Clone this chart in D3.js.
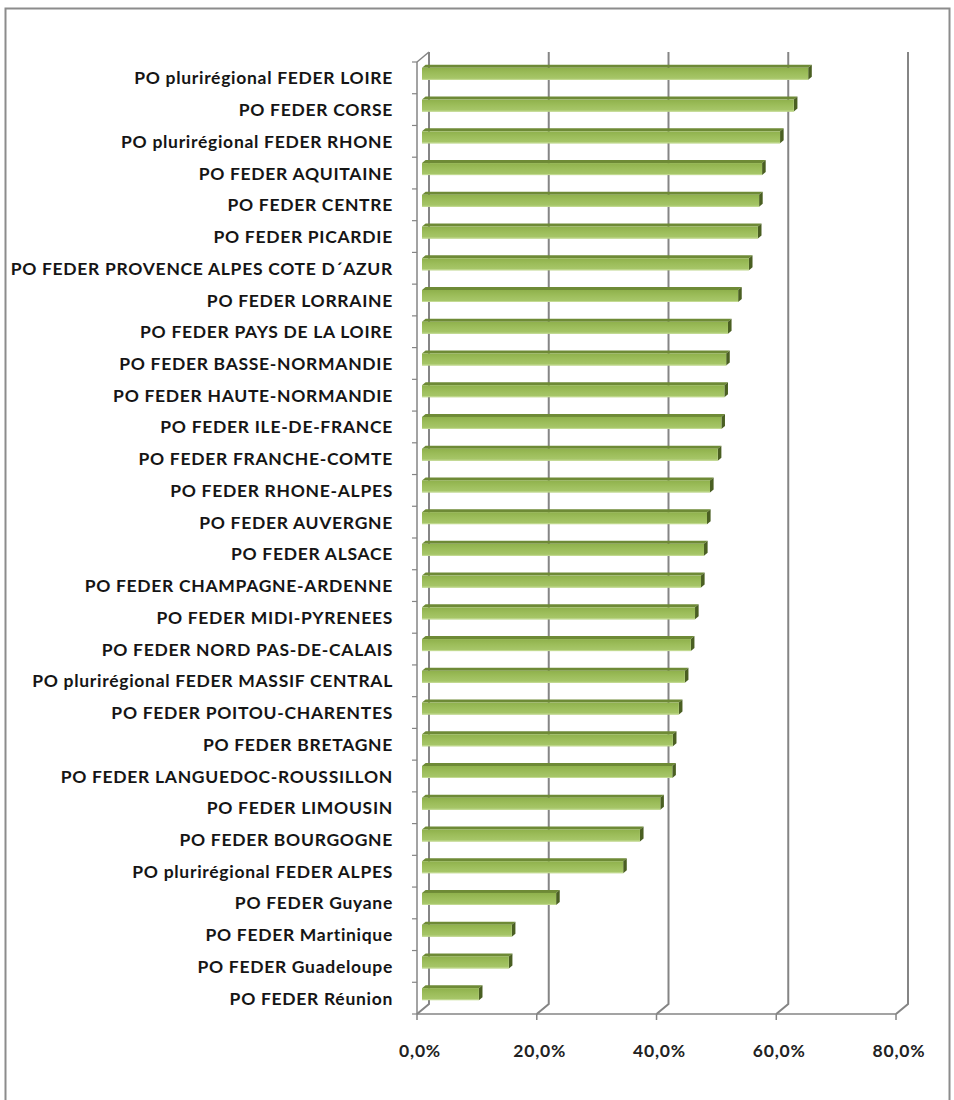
<!DOCTYPE html>
<html>
<head>
<meta charset="utf-8">
<script src="https://cdn.jsdelivr.net/npm/d3@7"></script>
<style>
  html, body { margin: 0; padding: 0; background: #ffffff; }
  svg { display: block; }
</style>
</head>
<body>
<script>
const categories = [
  "PO plurirégional FEDER LOIRE",
  "PO FEDER CORSE",
  "PO plurirégional FEDER RHONE",
  "PO FEDER AQUITAINE",
  "PO FEDER CENTRE",
  "PO FEDER PICARDIE",
  "PO FEDER PROVENCE ALPES COTE D´AZUR",
  "PO FEDER LORRAINE",
  "PO FEDER PAYS DE LA LOIRE",
  "PO FEDER BASSE-NORMANDIE",
  "PO FEDER HAUTE-NORMANDIE",
  "PO FEDER ILE-DE-FRANCE",
  "PO FEDER FRANCHE-COMTE",
  "PO FEDER RHONE-ALPES",
  "PO FEDER AUVERGNE",
  "PO FEDER ALSACE",
  "PO FEDER CHAMPAGNE-ARDENNE",
  "PO FEDER MIDI-PYRENEES",
  "PO FEDER NORD PAS-DE-CALAIS",
  "PO plurirégional FEDER MASSIF CENTRAL",
  "PO FEDER POITOU-CHARENTES",
  "PO FEDER BRETAGNE",
  "PO FEDER LANGUEDOC-ROUSSILLON",
  "PO FEDER LIMOUSIN",
  "PO FEDER BOURGOGNE",
  "PO plurirégional FEDER ALPES",
  "PO FEDER Guyane",
  "PO FEDER Martinique",
  "PO FEDER Guadeloupe",
  "PO FEDER Réunion"
];
const values = [
  64.5, 62.1, 59.8, 56.8, 56.3, 56.1, 54.6, 52.8, 51.1, 50.8,
  50.5, 50.0, 49.4, 48.1, 47.6, 47.1, 46.6, 45.6, 44.9, 43.9,
  42.9, 41.9, 41.8, 39.8, 36.4, 33.6, 22.4, 15.0, 14.5, 9.5
];
const xTicks = [0, 20, 40, 60, 80];
const xTickLabels = ["0,0%", "20,0%", "40,0%", "60,0%", "80,0%"];

const W = 954, H = 1100;
const svg = d3.select("body").append("svg").attr("width", W).attr("height", H);

// frame
svg.append("rect").attr("x", 5.5).attr("y", 8.5).attr("width", 944).attr("height", 1100)
  .attr("fill", "#fff").attr("stroke", "#8c8c8c").attr("stroke-width", 2);

// front plane scales
const x = d3.scaleLinear().domain([0, 80]).range([417, 896]);
const y = d3.scaleBand().domain(categories).range([62, 1014]);
const DX = 12, DY = -10; // depth offset (front -> back)
const yTop = 62, yBot = 1014;

const grid = svg.append("g");
xTicks.forEach(t => {
  const fx = x(t);
  grid.append("path")
    .attr("d", `M${fx + DX},${yTop + DY} L${fx + DX},${yBot + DY} L${fx},${yBot}`)
    .attr("fill", "none").attr("stroke", "#858585").attr("stroke-width", 2);
});
grid.append("line").attr("x1", x(0)).attr("y1", yTop).attr("x2", x(0) + DX).attr("y2", yTop + DY)
  .attr("stroke", "#858585").attr("stroke-width", 1.5);
grid.append("line").attr("x1", x(0)).attr("x2", x(80)).attr("y1", yBot).attr("y2", yBot)
  .attr("stroke", "#858585").attr("stroke-width", 1.5);
xTicks.forEach(t => {
  grid.append("line").attr("x1", x(t)).attr("x2", x(t)).attr("y1", yBot).attr("y2", yBot + 6)
    .attr("stroke", "#858585").attr("stroke-width", 1.5);
});
grid.append("line").attr("x1", x(0)).attr("x2", x(0)).attr("y1", yTop).attr("y2", yBot)
  .attr("stroke", "#858585").attr("stroke-width", 1.5);
const bounds = categories.map(c => y(c)).concat([yBot]);
bounds.forEach(b => {
  grid.append("line").attr("x1", x(0) - 5).attr("x2", x(0)).attr("y1", b).attr("y2", b)
    .attr("stroke", "#858585").attr("stroke-width", 1.2);
});

// bars (3D boxes)
const defs = svg.append("defs");
const grad = defs.append("linearGradient").attr("id", "barGrad").attr("x1", 0).attr("y1", 0).attr("x2", 0).attr("y2", 1);
grad.append("stop").attr("offset", "0%").attr("stop-color", "#8fb14c");
grad.append("stop").attr("offset", "45%").attr("stop-color", "#9cbd5a");
grad.append("stop").attr("offset", "100%").attr("stop-color", "#a9c86c");

const fOff = { dx: 5, dy: -3.5 };
const bD = { dx: 3.6, dy: -3.0 };
const faceH = 12;
const bars = svg.append("g");
categories.forEach((c, i) => {
  const v = values[i];
  const cy = y(c) + y.bandwidth() / 2 + fOff.dy - 0.5;
  const x0 = x(0) + fOff.dx, x1 = x(v) + fOff.dx;
  const t = cy - faceH / 2, b = cy + faceH / 2;
  bars.append("path")
    .attr("d", `M${x0},${t} L${x1},${t} L${x1 + bD.dx},${t + bD.dy} L${x0 + bD.dx},${t + bD.dy} Z`)
    .attr("fill", "#6e8a36");
  bars.append("path")
    .attr("d", `M${x1},${t} L${x1 + bD.dx},${t + bD.dy} L${x1 + bD.dx},${b + bD.dy} L${x1},${b} Z`)
    .attr("fill", "#4a5f22");
  bars.append("rect").attr("x", x0).attr("y", t).attr("width", x1 - x0).attr("height", faceH)
    .attr("fill", "url(#barGrad)");
  bars.append("line").attr("x1", x0).attr("x2", x1).attr("y1", b - 0.5).attr("y2", b - 0.5)
    .attr("stroke", "#c3da92").attr("stroke-width", 1);
});

// category labels
const font = "Lato, 'Open Sans', 'DejaVu Sans', sans-serif";
svg.append("g").selectAll("text").data(categories).join("text")
  .attr("x", 393)
  .attr("y", d => y(d) + y.bandwidth() / 2)
  .attr("text-anchor", "end")
  .attr("dominant-baseline", "central")
  .attr("font-family", font)
  .attr("font-weight", "bold")
  .attr("font-size", 17.5)
  .attr("letter-spacing", 0.7)
  .attr("fill", "#151515")
  .text(d => d);

// x tick labels
svg.append("g").selectAll("text").data(xTicks).join("text")
  .attr("x", d => x(d) + 3)
  .attr("y", 1050)
  .attr("text-anchor", "middle")
  .attr("dominant-baseline", "central")
  .attr("font-family", font)
  .attr("font-weight", "bold")
  .attr("font-size", 17.5)
  .attr("letter-spacing", 0.8)
  .attr("fill", "#222")
  .text((d, i) => xTickLabels[i]);
</script>
</body>
</html>
